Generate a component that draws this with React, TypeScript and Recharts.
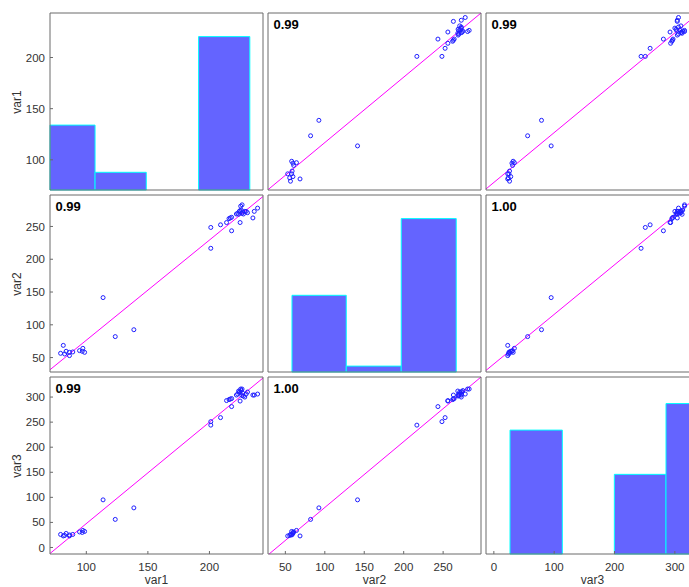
import { ScatterChart, Scatter, XAxis, YAxis, ReferenceLine, ReferenceArea } from "recharts";

const varNames = ["var1", "var2", "var3"];

const var1 = [
  79.1, 81.3, 82.4, 83.6, 86.3, 86.3, 89.0, 94.5, 96.7, 97.2, 98.6,
  113.6, 123.5, 138.6,
  201.1, 201.1, 209.0, 213.9, 215.9, 216.9, 218.0, 218.0, 221.9, 222.9, 224.3, 224.9, 225.4,
  226.5, 227.0, 227.6, 228.7, 229.8, 230.9, 235.3, 236.4, 239.1, 223.7, 225.8, 226.4, 224.8,
];
const var2 = [
  56.5, 68.6, 55.5, 59.6, 58.0, 53.0, 58.6, 60.6, 59.6, 64.1, 58.0,
  141.5, 82.0, 92.5,
  216.7, 248.5, 252.5, 256.0, 262.0, 263.0, 243.4, 264.0, 269.0, 270.0, 273.0, 256.0, 281.0,
  283.0, 272.0, 269.0, 273.0, 273.0, 271.0, 263.0, 273.0, 278.0, 268.6, 275.0, 270.0, 274.0,
];
const var3 = [
  26, 23, 24, 28, 25, 23, 26, 31, 30, 34, 32,
  95, 56, 79,
  244, 251, 259, 293, 295, 296, 281, 297, 304, 306, 310, 292, 316,
  316, 308, 302, 300, 306, 310, 304, 304, 306, 312, 313, 303, 311,
];
const vars = [var1, var2, var3];

const domains: [number, number][] = [
  [70.5, 243.5],
  [28, 298],
  [-13, 340],
];
const xTicks = [
  [100, 150, 200],
  [50, 100, 150, 200, 250],
  [0, 100, 200, 300],
];
const yTicks = [
  [100, 150, 200],
  [50, 100, 150, 200, 250],
  [0, 50, 100, 150, 200, 250, 300],
];

const corrLabels = [
  ["", "0.99", "0.99"],
  ["0.99", "", "1.00"],
  ["0.99", "1.00", ""],
];

// histogram bins (in axis units) and counts
const histEdges = [
  [65.6, 107.1, 148.7, 191.2, 232.8],
  [58.4, 127.2, 196.9, 266.6],
  [26.8, 113.5, 199.7, 285.3, 371.3],
];
const histCounts = [
  [11, 3, 0, 26],
  [13, 1, 26],
  [14, 0, 9, 17],
];
const histMax = [30, 30, 20];

const COL_X = [50, 268, 486];
const ROW_Y = [13, 195, 377];
const PW = 213;
const PH = 177;
const YW = 50; // left axis room
const XH = 33; // bottom axis room
const TH = 10; // top axis room
const RW = 10; // right axis room
const AXIS = "#6a6a6a";
const TEXT = "#333";
const FONT = "'Liberation Sans', Arial, Helvetica, sans-serif";

function fit(xs: number[], ys: number[]) {
  const n = xs.length;
  const mx = xs.reduce((s, v) => s + v, 0) / n;
  const my = ys.reduce((s, v) => s + v, 0) / n;
  let sxy = 0;
  let sxx = 0;
  for (let i = 0; i < n; i++) {
    sxy += (xs[i] - mx) * (ys[i] - my);
    sxx += (xs[i] - mx) ** 2;
  }
  const b = sxy / sxx;
  return { a: my - b * mx, b };
}

function fitSegment(xs: number[], ys: number[], xd: [number, number], yd: [number, number]) {
  const { a, b } = fit(xs, ys);
  const x0 = Math.max(xd[0], (yd[0] - a) / b);
  const x1 = Math.min(xd[1], (yd[1] - a) / b);
  return [
    { x: x0, y: a + b * x0 },
    { x: x1, y: a + b * x1 },
  ];
}

const Dot = (p: any) => (
  <circle cx={p.cx} cy={p.cy} r={2} fill="none" stroke="#1f1fff" strokeWidth={1} />
);

function Panel({ r, c }: { r: number; c: number }) {
  const isLeft = c === 0;
  const isBottom = r === 2;
  const tickStyle = { fill: TEXT, fontSize: 11.5, fontFamily: FONT };
  const diag = r === c;
  const pts = vars[c].map((x, i) => ({ x, y: vars[r][i] }));
  const [d0, d1] = domains[c];

  return (
    <div style={{ position: "absolute", left: COL_X[c] - YW, top: ROW_Y[r] - TH }}>
      <ScatterChart
        width={YW + PW + RW}
        height={TH + PH + XH}
        margin={{ top: 0, right: 0, bottom: 0, left: 0 }}
      >
        <XAxis
          xAxisId="b"
          type="number"
          dataKey="x"
          domain={domains[c]}
          ticks={xTicks[c]}
          interval={0}
          allowDataOverflow
          height={XH}
          tick={isBottom ? tickStyle : false}
          tickSize={-3}
          tickMargin={12}
          stroke={AXIS}
        />
        <XAxis
          xAxisId="t"
          orientation="top"
          type="number"
          domain={domains[c]}
          ticks={xTicks[c]}
          interval={0}
          allowDataOverflow
          height={TH}
          tick={false}
          tickSize={-3}
          stroke={AXIS}
        />
        <YAxis
          yAxisId="l"
          type="number"
          dataKey="y"
          domain={domains[r]}
          ticks={yTicks[r]}
          interval={0}
          allowDataOverflow
          width={YW}
          tick={isLeft ? tickStyle : false}
          tickSize={-3}
          tickMargin={8}
          stroke={AXIS}
        />
        <YAxis
          yAxisId="r"
          orientation="right"
          type="number"
          domain={domains[r]}
          ticks={yTicks[r]}
          interval={0}
          allowDataOverflow
          width={RW}
          tick={false}
          tickSize={-3}
          stroke={AXIS}
        />
        {diag && (
          <YAxis
            yAxisId="cnt"
            orientation="right"
            type="number"
            domain={[0, histMax[r]]}
            allowDataOverflow
            width={0}
            hide
          />
        )}
        {diag &&
          histCounts[r].map((cnt, i) =>
            cnt > 0 ? (
              <ReferenceArea
                key={i}
                xAxisId="b"
                yAxisId="cnt"
                x1={Math.max(histEdges[r][i], d0)}
                x2={Math.min(histEdges[r][i + 1], d1 + 40)}
                y1={0}
                y2={cnt}
                fill="#6464ff"
                fillOpacity={1}
                stroke="#00ffff"
                strokeWidth={1}
                ifOverflow="visible"
              />
            ) : null
          )}
        {!diag && (
          <ReferenceLine
            xAxisId="b"
            yAxisId="l"
            segment={fitSegment(vars[c], vars[r], domains[c], domains[r])}
            stroke="#ff00ff"
            strokeWidth={1}
            ifOverflow="visible"
          />
        )}
        {!diag && (
          <Scatter xAxisId="b" yAxisId="l" data={pts} shape={Dot} isAnimationActive={false} />
        )}
      </ScatterChart>
    </div>
  );
}

export default function App() {
  const cells = [];
  for (let r = 0; r < 3; r++) for (let c = 0; c < 3; c++) cells.push({ r, c });

  return (
    <div
      style={{
        position: "absolute",
        left: 0,
        top: 0,
        width: 689,
        height: 587,
        overflow: "hidden",
        background: "#fff",
        fontFamily: FONT,
      }}
    >
      {cells.map(({ r, c }) => (
        <Panel key={`${r}-${c}`} r={r} c={c} />
      ))}
      {cells.map(({ r, c }) =>
        corrLabels[r][c] ? (
          <div
            key={`t${r}-${c}`}
            style={{
              position: "absolute",
              left: COL_X[c] + 5.5,
              top: ROW_Y[r] + 5.3,
              fontSize: 13,
              lineHeight: "13px",
              fontWeight: "bold",
              color: "#000",
            }}
          >
            {corrLabels[r][c]}
          </div>
        ) : null
      )}
      {varNames.map((name, i) => (
        <div
          key={`yl${i}`}
          style={{
            position: "absolute",
            left: 17,
            top: ROW_Y[i] + PH / 2,
            transform: "translate(-50%, -50%) rotate(-90deg)",
            fontSize: 12,
            lineHeight: "12px",
            color: TEXT,
            whiteSpace: "nowrap",
          }}
        >
          {name}
        </div>
      ))}
      {varNames.map((name, i) => (
        <div
          key={`xl${i}`}
          style={{
            position: "absolute",
            left: COL_X[i] + PW / 2,
            top: 574,
            transform: "translateX(-50%)",
            fontSize: 12,
            lineHeight: "12px",
            color: TEXT,
            whiteSpace: "nowrap",
          }}
        >
          {name}
        </div>
      ))}
    </div>
  );
}
